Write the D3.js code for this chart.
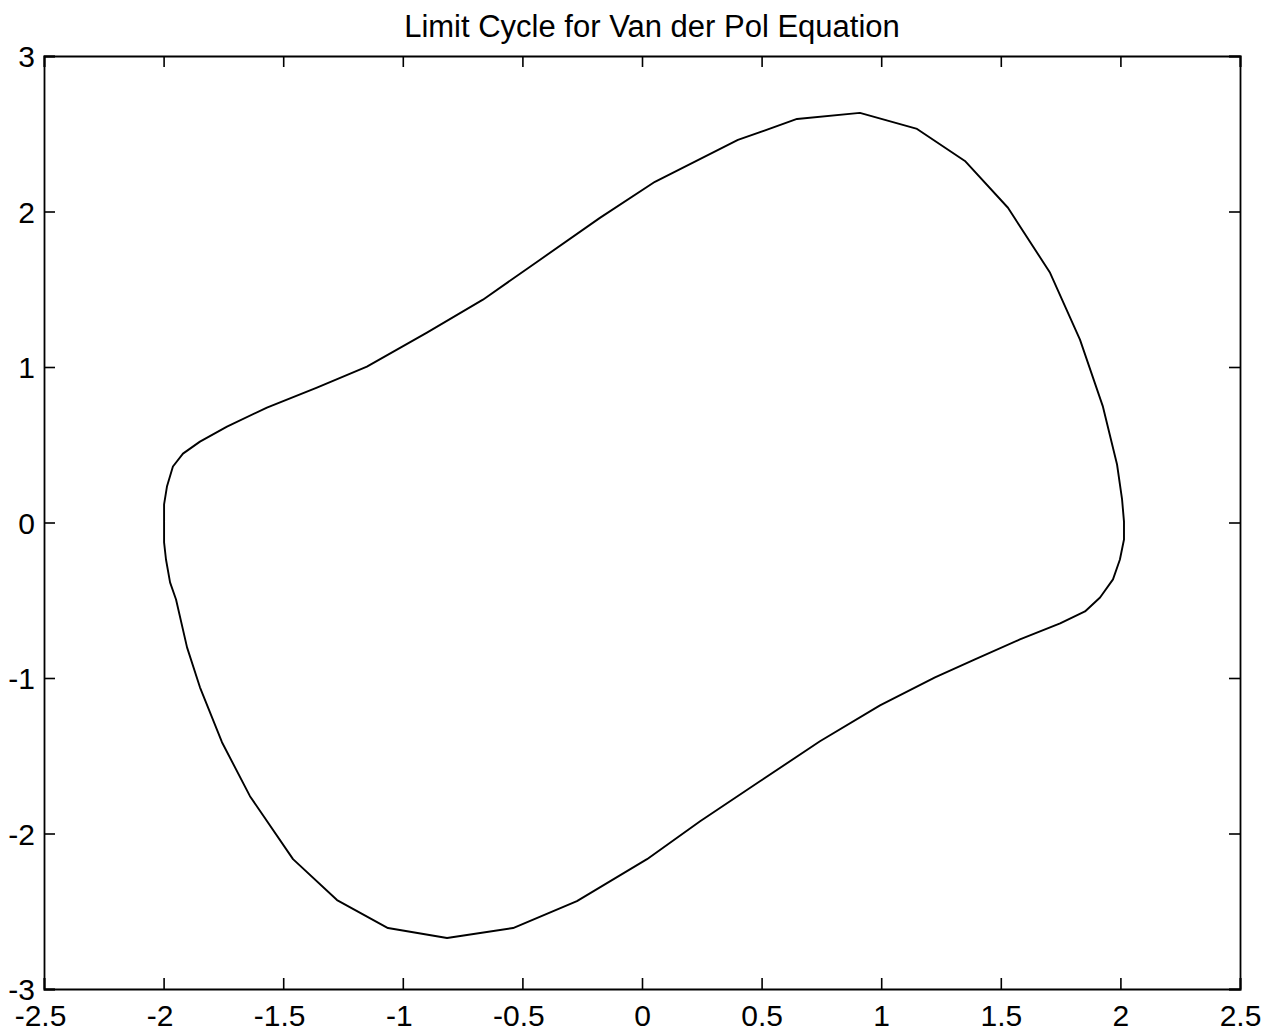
<!DOCTYPE html>
<html>
<head>
<meta charset="utf-8">
<script src="https://cdn.jsdelivr.net/npm/d3@7"></script>
<style>
  html, body { margin: 0; padding: 0; background: #fff; }
  svg { display: block; }
  text { font-family: "Liberation Sans", Arial, Helvetica, sans-serif; fill: #000; }
</style>
</head>
<body>
<svg id="chart" width="1279" height="1032"></svg>
<script>
// Phase-plane trajectory of the Van der Pol oscillator (x, dx/dt), one closed orbit.
const cycleX = [
  -1.998, -1.998, -1.986, -1.961, -1.919, -1.848, -1.735, -1.568, -1.359, -1.150,
  -0.899, -0.665, -0.426, -0.176, 0.054, 0.401, 0.648, 0.911, 1.150, 1.350,
  1.530, 1.706, 1.831, 1.927, 1.986, 2.007, 2.015, 2.015, 1.998, 1.969,
  1.915, 1.852, 1.748, 1.580, 1.392, 1.225, 0.995, 0.744, 0.493, 0.243,
  0.021, -0.272, -0.539, -0.815, -1.062, -1.275, -1.459, -1.639, -1.756, -1.848,
  -1.902, -1.948, -1.973, -1.990, -1.998, -1.998
];
const cycleY = [
  0.006, 0.116, 0.231, 0.360, 0.443, 0.520, 0.617, 0.739, 0.867, 1.002,
  1.221, 1.433, 1.690, 1.959, 2.191, 2.460, 2.595, 2.634, 2.531, 2.325,
  2.024, 1.606, 1.176, 0.745, 0.373, 0.148, 0.006, -0.109, -0.238, -0.366,
  -0.482, -0.572, -0.649, -0.752, -0.880, -0.996, -1.176, -1.407, -1.664, -1.921,
  -2.165, -2.435, -2.608, -2.672, -2.608, -2.428, -2.165, -1.760, -1.413, -1.060,
  -0.803, -0.495, -0.385, -0.238, -0.128, 0.006
];

const xTicks = [-2.5, -2, -1.5, -1, -0.5, 0, 0.5, 1, 1.5, 2, 2.5];
const yTicks = [-3, -2, -1, 0, 1, 2, 3];
const titleText = "Limit Cycle for Van der Pol Equation";

const svg = d3.select("#chart");
const plotLeft = 44, plotRight = 1240, plotTop = 56, plotBottom = 989;
const tickLen = 11;

const x = d3.scaleLinear().domain([-2.5, 2.5]).range([plotLeft, plotRight]);
const y = d3.scaleLinear().domain([-3, 3]).range([plotBottom, plotTop]);

const fmt = d => String(d);

// Axes: ticks point inward on all four sides, labels only on bottom and left.
const axBottom = svg.append("g").attr("transform", `translate(0,${plotBottom})`)
  .call(d3.axisBottom(x).tickValues(xTicks).tickSize(-tickLen).tickPadding(16).tickFormat(fmt));
const axTop = svg.append("g").attr("transform", `translate(0,${plotTop})`)
  .call(d3.axisTop(x).tickValues(xTicks).tickSize(-tickLen).tickFormat(""));
const axLeft = svg.append("g").attr("transform", `translate(${plotLeft},0)`)
  .call(d3.axisLeft(y).tickValues(yTicks).tickSize(-tickLen).tickPadding(9).tickFormat(fmt));
const axRight = svg.append("g").attr("transform", `translate(${plotRight},0)`)
  .call(d3.axisRight(y).tickValues(yTicks).tickSize(-tickLen).tickFormat(""));

[axBottom, axTop, axLeft, axRight].forEach(g => {
  g.select(".domain").attr("stroke", "#000").attr("stroke-width", 1.8);
  g.selectAll(".tick line").attr("stroke", "#000").attr("stroke-width", 1.6);
  g.selectAll(".tick text")
    .attr("font-family", "'Liberation Sans', Arial, Helvetica, sans-serif")
    .attr("font-size", 30)
    .attr("fill", "#000");
});
axBottom.selectAll(".tick text")
  .attr("dy", "0.71em")
  .attr("dx", d => d < 0 ? -4 : 0);
axLeft.selectAll(".tick text").attr("dy", "0.36em");

// The orbit itself, as straight segments between solver steps.
const pts = cycleX.map((v, i) => [v, cycleY[i]]);
svg.append("path")
  .datum(pts)
  .attr("fill", "none")
  .attr("stroke", "#000")
  .attr("stroke-width", 1.9)
  .attr("stroke-linejoin", "round")
  .attr("d", d3.line().x(d => x(d[0])).y(d => y(d[1])));

svg.append("text")
  .attr("x", 652)
  .attr("y", 37)
  .attr("text-anchor", "middle")
  .attr("font-size", 31)
  .text(titleText);
</script>
</body>
</html>
